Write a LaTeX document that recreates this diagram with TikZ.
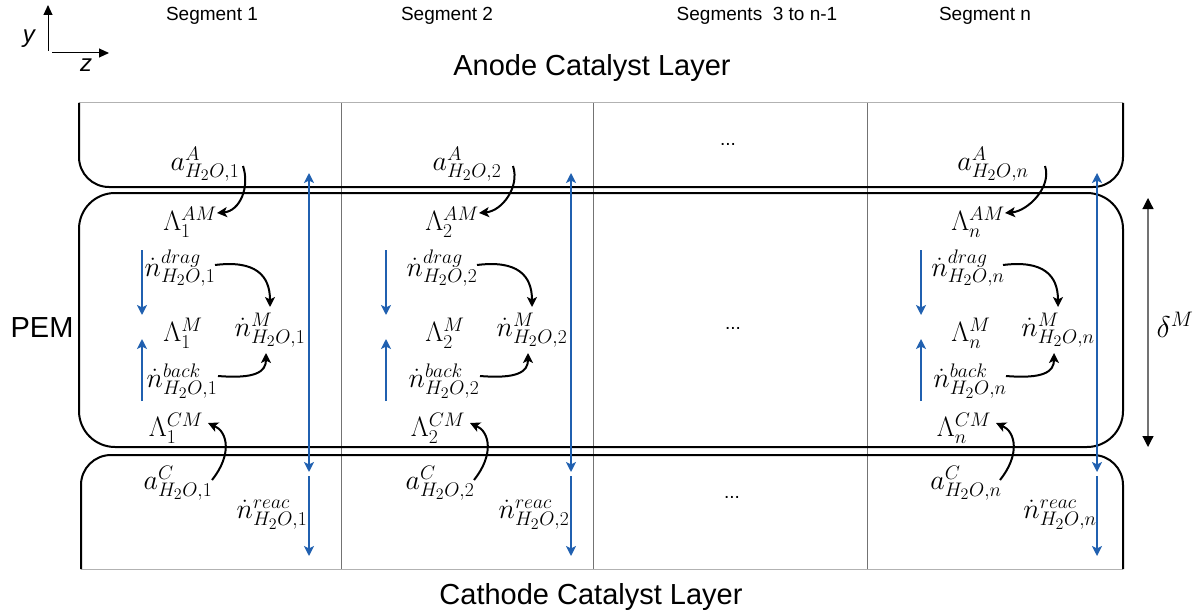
\RequirePackage{fix-cm}
\documentclass[tikz,border=0pt]{standalone}
\usepackage{fontspec}
\setmainfont{Liberation Sans}
\usetikzlibrary{arrows.meta,calc}
\definecolor{myblue}{RGB}{32,96,176}
\DeclareMathSizes{28}{28}{19.6}{16}
\DeclareMathSizes{30}{30}{21}{17}
\begin{document}
\begin{tikzpicture}[x=1pt,y=-1pt,
  lbl/.style={font=\fontsize{19}{22}\selectfont, inner sep=0pt},
  big/.style={font=\fontsize{29}{34}\selectfont, inner sep=0pt},
  mth/.style={font=\fontsize{28}{32}\selectfont, inner sep=0pt},
  boxline/.style={line width=2pt, black},
  divline/.style={line width=1pt, black!55},
  edgeline/.style={line width=1pt, black!30},
  axis/.style={line width=1pt, -{Triangle[length=10pt,width=9pt]}},
  bluearr/.style={myblue, line width=2.8pt, -{Stealth[length=10pt,width=10pt,inset=2.5pt]}},
  bluedbl/.style={myblue, line width=2.8pt, {Stealth[length=10pt,width=10pt,inset=2.5pt]}-{Stealth[length=10pt,width=10pt,inset=2.5pt]}},
  curv/.style={line width=2pt, -{Stealth[length=10pt,width=10pt,inset=2.5pt]}},
  dimarr/.style={line width=1.2pt, black!55, {Triangle[length=11pt,width=11pt,color=black]}-{Triangle[length=11pt,width=11pt,color=black]}}
]
\useasboundingbox (0,0) rectangle (1202,615);

% axes
\coordinate (ax0) at (48,51);
\coordinate (axy) at (48,5);
\coordinate (ax1) at (52,53);
\coordinate (axz) at (109,53);
\draw[axis] (ax0) -- (axy);
\draw[axis] (ax1) -- (axz);
\node[font=\fontsize{24}{28}\selectfont\itshape, inner sep=0pt] (ylab) at (29,39) {y};
\node[font=\fontsize{24}{28}\selectfont\itshape, inner sep=0pt] (zlab) at (86,65) {z};

% headings
\node[lbl] (s1) at (212,16) {Segment 1};
\node[lbl] (s2) at (447,16) {Segment 2};
\node[lbl] (s3) at (757,16) {Segments\ \ 3 to n-1};
\node[lbl] (sn) at (985,16) {Segment n};
\node[big] (anode) at (592,68) {Anode Catalyst Layer};
\node[big] (cathode) at (591,597) {Cathode Catalyst Layer};
\node[big] (pem) at (42,328) {PEM};

% dividers
\foreach \xx in {341,593,867} {
  \draw[divline] (\xx,103) -- (\xx,569);
}

% anode layer
\draw[edgeline] (79,103) -- (1123,103);
\draw[boxline, rounded corners=30pt] (79,103) -- (79,187) -- (1123,187) -- (1123,103);
% membrane
\draw[boxline, rounded corners=36pt] (79,193) rectangle (1123,447);
% cathode layer
\draw[edgeline] (81,569) -- (1123,569);
\draw[boxline, rounded corners=30pt] (81,569) -- (81,455) -- (1123,455) -- (1123,569);

% middle dots
\node[lbl] (d1) at (728,144) {...};
\node[lbl] (d2) at (733,328) {...};
\node[lbl] (d3) at (732,497) {...};

% thickness
\coordinate (dtop) at (1148,198);
\coordinate (dbot) at (1148,447);
\draw[dimarr] (dbot) -- (dtop);
\node[font=\fontsize{30}{34}\selectfont, inner sep=0pt] (delta) at (1175,325) {$\delta^{M}$};

% segments
\foreach \s/\dx/\bx/\ax in {1/0/142/0, 2/262/124/8, n/788/133/14} {
\begin{scope}[xshift=\dx pt]
  \node[mth] (aA\s) at (205,164) {$a^{A}_{H_2O,\s}$};
  \node[mth] (LAM\s) at (190,222) {$\Lambda^{AM}_{\s}$};
  \node[mth] (nd\s) at (180,268) {$\dot{n}^{drag}_{H_2O,\s}$};
  \node[mth] (LM\s) at (183,333) {$\Lambda^{M}_{\s}$};
  \node[mth] (nM\s) at (270,330) {$\dot{n}^{M}_{H_2O,\s}$};
  \node[mth] (nb\s) at (182,381) {$\dot{n}^{back}_{H_2O,\s}$};
  \node[mth] (LCM\s) at (176,428) {$\Lambda^{CM}_{\s}$};
  \node[mth] (aC\s) at (178,483) {$a^{C}_{H_2O,\s}$};
  \node[mth] (nr\s) at (272,515) {$\dot{n}^{reac}_{H_2O,\s}$};

  \draw[curv] ($(aA\s.center)+(38+\ax,2)$) .. controls ($(aA\s.center)+(45+\ax,23)$) and ($(LAM\s.center)+(50,-11)$) .. ($(LAM\s.center)+(27,-9)$);
  \draw[curv] ($(nd\s.center)+(35,-3)$) .. controls ($(nd\s.center)+(75,-8)$) and ($(nM\s.center)+(0,-55)$) .. ($(nM\s.center)+(0,-23)$);
  \draw[curv] ($(nb\s.center)+(36,-5)$) .. controls ($(nb\s.center)+(73,-2)$) and ($(nM\s.center)+(-4,42)$) .. ($(nM\s.center)+(-4,23)$);
  \draw[curv] ($(aC\s.center)+(34,-3)$) .. controls ($(aC\s.center)+(54,-28)$) and ($(LCM\s.center)+(52,4)$) .. ($(LCM\s.center)+(32,-5)$);

  \coordinate (bt\s) at (309,173);
  \coordinate (bm\s) at (309,472);
  \coordinate (bu\s) at (309,476);
  \coordinate (bb\s) at (309,556);
  \draw[bluedbl] (bm\s) -- (bt\s);
  \draw[bluearr] (bu\s) -- (bb\s);

  \coordinate (sdt\s) at (\bx,250);
  \coordinate (sdb\s) at (\bx,315);
  \coordinate (sut\s) at (\bx,339);
  \coordinate (sub\s) at (\bx,401);
  \draw[bluearr, line width=2.2pt] (sdt\s) -- (sdb\s);
  \draw[bluearr, line width=2.2pt] (sub\s) -- (sut\s);
\end{scope}
}
\end{tikzpicture}
\end{document}
